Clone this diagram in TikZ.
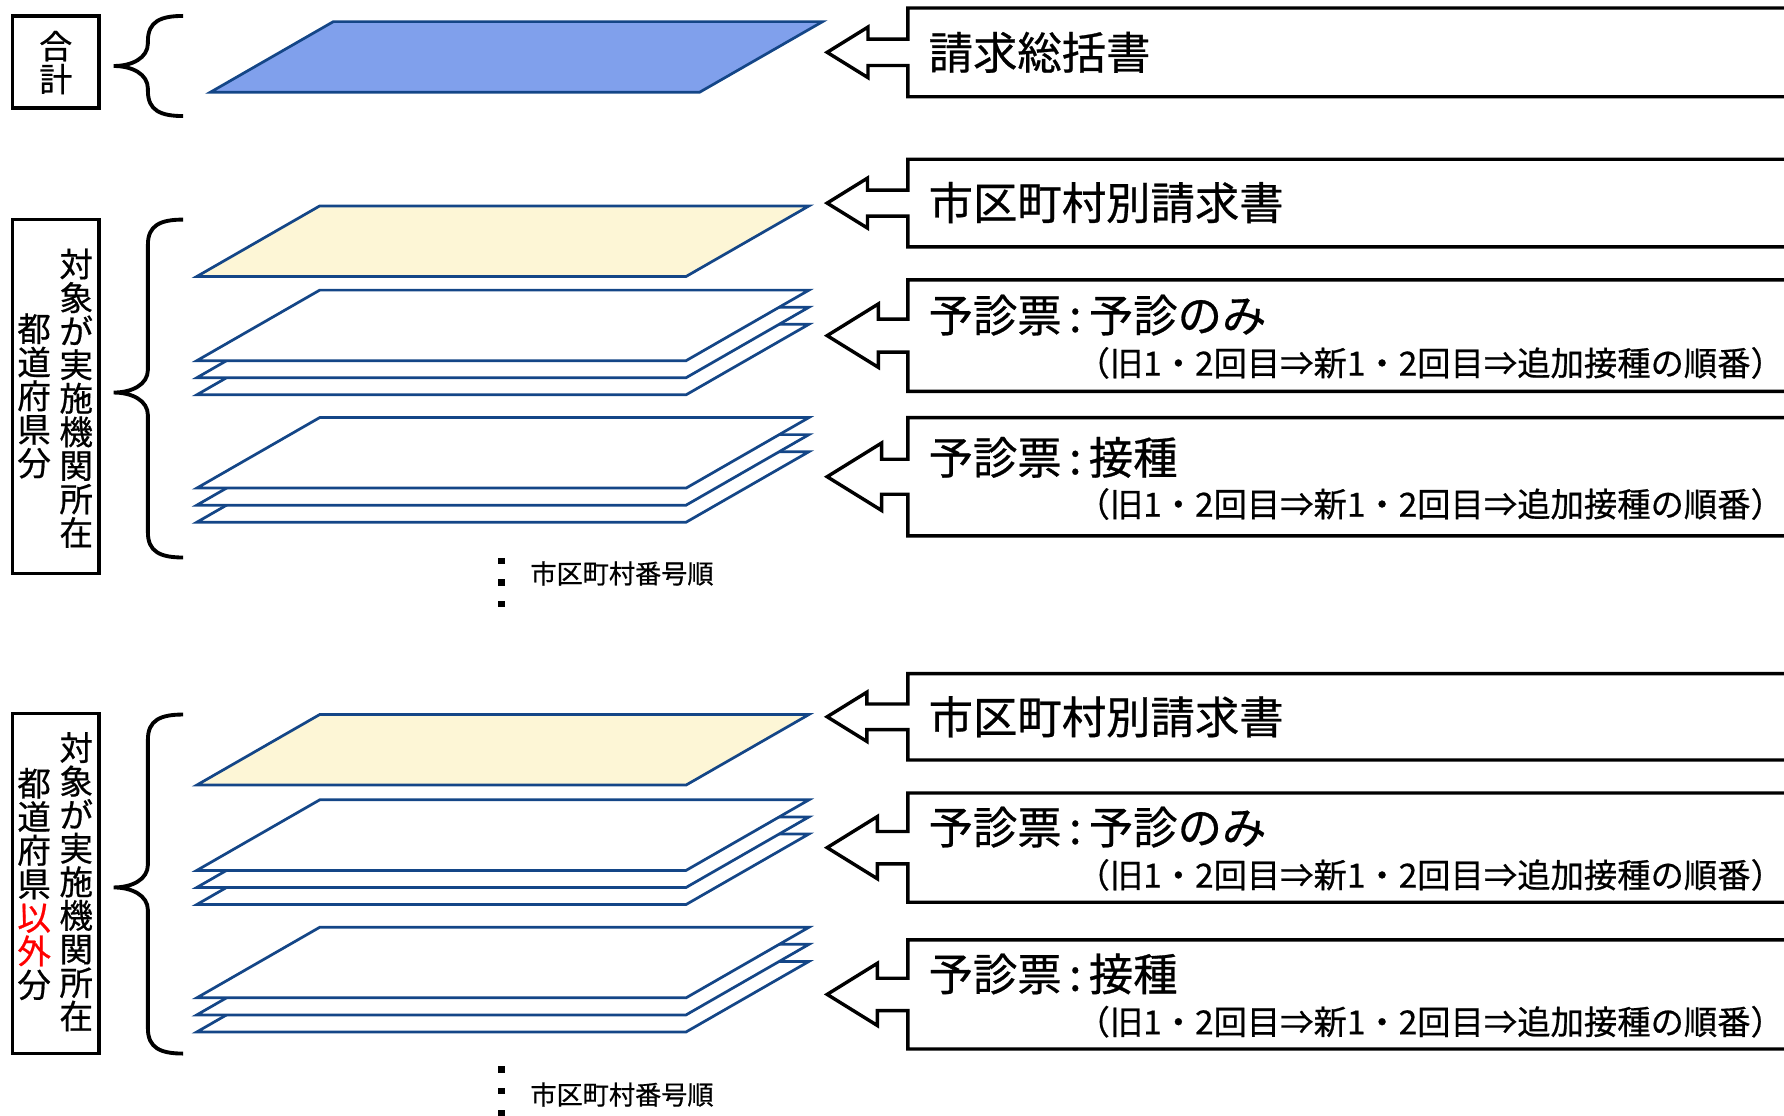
\documentclass[tikz,border=0pt]{standalone}
\usepackage{fontspec}
\newfontfamily\jpfont[FakeBold=0.6]{Noto Sans CJK JP}
\usepackage{tikz}
\usetikzlibrary{calc}
\usepackage{xcolor}
\definecolor{sheetline}{RGB}{20,70,135}
\definecolor{sheetblue}{RGB}{128,160,236}
\definecolor{sheetcream}{RGB}{253,246,214}

\tikzset{
  sheet/.style={draw=sheetline, line width=2.4pt, fill=white},
  callbox/.style={draw=black, line width=3pt, line join=miter},
  sidebox/.style={draw=black, line width=3pt},
  brc/.style={draw=black, line width=3.4pt},
  bigtxt/.style={font=\jpfont\fontsize{39}{39}\selectfont, anchor=west, inner sep=0pt},
  subtxt/.style={font=\jpfont\fontsize{29.3}{29.3}\selectfont, anchor=west, inner sep=0pt},
  coltxt/.style={font=\jpfont\fontsize{29.5}{29.5}\selectfont, align=center, inner sep=0pt},
  smalltxt/.style={font=\jpfont\fontsize{23}{23}\selectfont, anchor=west, inner sep=0pt},
}

% one sheet, top edge at y=#2
\newcommand{\sheetat}[2][white]{%
  \draw[sheet, fill=#1] (281,#2) -- (711,#2) -- (603,#2+62) -- (173,#2+62) -- cycle;}
% three sheets, top one at y=#1
\newcommand{\sheetstack}[1]{%
  \foreach \k in {2,1,0} {\sheetat{#1+15*\k}}}
% left arrow callout from y=#1 to y=#2
\newcommand{\arrowbox}[2]{%
  \pgfmathsetmacro{\cmid}{(#1+#2)/2}%
  \pgfmathsetmacro{\chgt}{#2-#1}%
  \draw[callbox] (1600,#1) -- (798,#1) -- (798,\cmid-0.148*\chgt)
    -- (727+0.46*\chgt,\cmid-0.148*\chgt) -- (727+0.46*\chgt,\cmid-0.285*\chgt)
    -- (727,\cmid) -- (727+0.46*\chgt,\cmid+0.285*\chgt)
    -- (727+0.46*\chgt,\cmid+0.148*\chgt) -- (798,\cmid+0.148*\chgt)
    -- (798,#2) -- (1600,#2);}
% curly brace: top, tip, bottom
\newcommand{\sidebrace}[3]{%
  \draw[brc] (161,#1) .. controls (141,#1) and (130,#1+5) .. (130,#1+22)
    -- (130,#2-20) .. controls (130,#2-7) and (116,#2) .. (100,#2)
    .. controls (116,#2) and (130,#2+7) .. (130,#2+20)
    -- (130,#3-22) .. controls (130,#3-5) and (141,#3) .. (161,#3);}

\begin{document}
\begin{tikzpicture}[x=1pt, y=-1pt]
	\useasboundingbox (0,0) rectangle (1568,980);
	% total
	\scope
		\draw[sidebox] (11,14) rectangle (87,95);
		\node[font=\jpfont\fontsize{29}{29}\selectfont, align=center, inner sep=0pt] (total) at (49,55) {合\\計};
		\sidebrace{14}{58}{102}
		\draw[sheet, fill=sheetblue] (293,19) -- (723,19) -- (615,81) -- (185,81) -- cycle;
		\arrowbox{7}{85}
		\node[bigtxt] (sum) at (816,46) {請求総括書};
	\endscope
	% inside the prefecture
	\scope
		\draw[sidebox] (11,193) rectangle (87,504);
		\node[coltxt] (inst1) at (67,350) {対\\象\\が\\実\\施\\機\\関\\所\\在};
		\node[coltxt] (pref1) at (30,348) {都\\道\\府\\県\\分};
		\sidebrace{193}{345}{490}
		\sheetat[sheetcream]{181}
		\sheetstack{255}
		\sheetstack{367}
		\arrowbox{140}{217}
		\arrowbox{246}{344}
		\arrowbox{367}{471}
		\node[bigtxt] (city1) at (816,178) {市区町村別請求書};
		\node[bigtxt] (pre1) at (816,277) {予診票\,:\,予診のみ};
		\node[subtxt] (pre1s) at (946,319) {（旧1・2回目⇒新1・2回目⇒追加接種の順番）};
		\node[bigtxt] (vac1) at (816,402) {予診票\,:\,接種};
		\node[subtxt] (vac1s) at (946,443) {（旧1・2回目⇒新1・2回目⇒追加接種の順番）};
		\foreach \d in {493,512,531} \fill (438,\d-2.75) rectangle ++(5.5,5.5);
		\node[smalltxt] (order1) at (466,504) {市区町村番号順};
	\endscope
	% outside the prefecture
	\scope
		\draw[sidebox] (11,627) rectangle (87,926);
		\node[coltxt] (inst2) at (67,775) {対\\象\\が\\実\\施\\機\\関\\所\\在};
		\node[coltxt] (pref2) at (30,777) {都\\道\\府\\県\\{\color{red}以}\\{\color{red}外}\\分};
		\sidebrace{628}{780}{926}
		\sheetat[sheetcream]{628}
		\sheetstack{703}
		\sheetstack{815}
		\arrowbox{592}{668}
		\arrowbox{697}{793}
		\arrowbox{826}{922}
		\node[bigtxt] (city2) at (816,630) {市区町村別請求書};
		\node[bigtxt] (pre2) at (816,727) {予診票\,:\,予診のみ};
		\node[subtxt] (pre2s) at (946,769) {（旧1・2回目⇒新1・2回目⇒追加接種の順番）};
		\node[bigtxt] (vac2) at (816,856) {予診票\,:\,接種};
		\node[subtxt] (vac2s) at (946,898) {（旧1・2回目⇒新1・2回目⇒追加接種の順番）};
		\foreach \d in {940,959,978} \fill (438,\d-2.75) rectangle ++(5.5,5.5);
		\node[smalltxt] (order2) at (466,962) {市区町村番号順};
	\endscope
\end{tikzpicture}
\end{document}
